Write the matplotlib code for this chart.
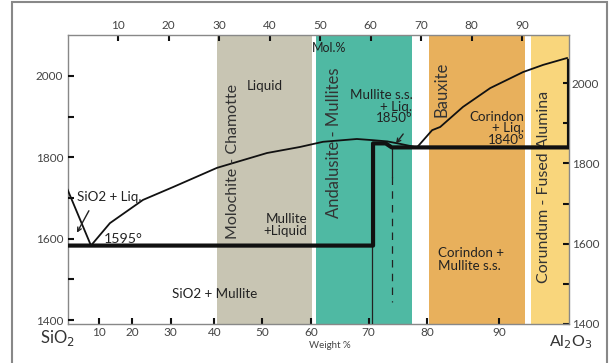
import matplotlib.pyplot as plt
from matplotlib.patches import Rectangle

plt.rcParams['font.family'] = ['Lato', 'DejaVu Sans']

# composition bands (mol % Al2O3)
bands = [(29.6, 48.4, '#c8c5b3'),
         (49.3, 68.2, '#4fb9a3'),
         (71.6, 90.6, '#e8b05c'),
         (91.8, 99.3, '#f9d67c')]
band_names = ['Molochite - Chamotte', 'Andalusite - Mullites', 'Bauxite',
              'Corundum - Fused Alumina']

# liquidus, mol % Al2O3 vs temperature
sio2_liq_x = [0.0, 4.65]
sio2_liq_t = [1735, 1595]
mul_liq_x = [4.65, 8.4, 14.95, 20.9, 29.6, 39.5, 46.0, 50.6, 57.3, 60.5, 63.3, 65.8, 69.2]
mul_liq_t = [1595, 1651, 1709, 1741, 1789, 1826, 1841, 1854, 1861, 1858, 1855, 1849, 1840]
cor_liq_x = [69.2, 72.2, 73.8, 78.3, 83.7, 90.2, 94.2, 98.9]
cor_liq_t = [1840, 1883, 1891, 1941, 1988, 2028, 2046, 2063]

t_eut1 = 1595
t_mullite = 1850
t_eut2 = 1840
t_al2o3 = 2056
x_mullite = 60.5
x_mullite_ss = 64.2
x_right = 99.3

mol_ticks = [10, 20, 30, 40, 50, 60, 70, 80, 90]
wt_ticks = [10, 20, 30, 40, 50, 60, 70, 80, 90]
wt_tick_mol = [6.24, 12.84, 20.45, 29.08, 38.59, 48.22, 59.64, 71.25, 85.45]

fig = plt.figure(figsize=(6.09, 3.63), dpi=100)
ax = fig.add_axes([67.5 / 609, 39 / 363, 501.5 / 609, 289 / 363])
ax.set_xlim(0, x_right)
ax.set_ylim(1399.3, 2120.5)

# left temperature scale lives on a twin axes
axl = ax.twinx()
axl.set_ylim(1390.2, 2100.8)

for x0, x1, c in bands:
    ax.axvspan(x0, x1, color=c, lw=0, zorder=0)

# liquidus curves
ax.plot(sio2_liq_x, sio2_liq_t, color='#111', lw=1.3, zorder=3)
ax.plot(mul_liq_x, mul_liq_t, color='#111', lw=1.3, zorder=3)
ax.plot(cor_liq_x, cor_liq_t, color='#111', lw=1.3, zorder=3)

# solidus / phase boundaries
ax.plot([0, x_mullite, x_mullite, 63.0, x_mullite_ss, x_right, x_right],
        [t_eut1, t_eut1, t_mullite, t_mullite, t_eut2, t_eut2, t_al2o3],
        color='#111', lw=3.0, solid_joinstyle='round', zorder=4)
ax.plot([60.3, 60.3], [1400, t_eut1], color='#222', lw=0.9, zorder=3)
ax.plot([x_mullite_ss, x_mullite_ss], [t_eut2, 1765], color='#222', lw=0.9, zorder=3)
ax.plot([x_mullite_ss, x_mullite_ss], [1765, 1453], color='#222', lw=0.9,
        ls=(0, (6, 5)), zorder=3)

# pointers
ax.annotate('', xy=(1.6, 1621), xytext=(4.5, 1688),
            arrowprops=dict(arrowstyle='->', color='#222', lw=1.0, mutation_scale=7))
ax.annotate('', xy=(64.7, 1844), xytext=(66.8, 1879),
            arrowprops=dict(arrowstyle='->', color='#222', lw=1.0, mutation_scale=7))

# band names
txt = dict(color='#333', rotation=90, ha='center', va='center')
ax.text(32.8, 1806, band_names[0], fontsize=11.5, **txt)
ax.text(52.8, 1851, band_names[1], fontsize=12, **txt)
ax.text(74.0, 1986, band_names[2], fontsize=12, **txt)
ax.text(94.3, 1741, band_names[3], fontsize=11.5, **txt)

lab = dict(color='#222', fontsize=9.6)
ax.text(39.0, 1993, 'Liquid', ha='center', va='center', **lab)
ax.text(68.3, 1941, 'Mullite s.s.\n+ Liq.\n1850°', ha='right', va='center',
        linespacing=0.95, **lab)
ax.text(90.4, 1888, 'Corindon\n+ Liq.\n1840°', ha='right', va='center',
        linespacing=0.95, **lab)
ax.text(1.9, 1716, 'SiO2 + Liq.', ha='left', va='center', **lab)
ax.text(7.2, 1611, '1595°', ha='left', va='center', fontsize=10.2, color='#222')
ax.text(47.5, 1646, 'Mullite\n+Liquid', ha='right', va='center',
        linespacing=0.95, **lab)
ax.text(29.2, 1474, 'SiO2 + Mullite', ha='center', va='center', **lab)
ax.text(73.3, 1561, 'Corindon +\nMullite s.s.', ha='left', va='center',
        linespacing=1.1, **lab)
ax.text(51.8, 2088, 'Mol.%', ha='center', va='center', color='#222', fontsize=9)

# axes styling
tick_kw = dict(direction='in', length=4.5, width=1.5, color='#111',
               labelcolor='#444', labelsize=8.5)
for sp in ax.spines.values():
    sp.set_color('#888')
    sp.set_linewidth(1.0)

ax.set_xticks(wt_tick_mol)
ax.set_xticklabels(wt_ticks)
ax.yaxis.tick_right()
ax.set_yticks([1400, 1600, 1800, 2000])
ax.set_yticks([1500, 1700, 1900], minor=True)
ax.tick_params(axis='both', which='both', pad=2, **tick_kw)

top = ax.secondary_xaxis('top')
top.set_xticks(mol_ticks)
top.tick_params(pad=3, **tick_kw)
top.spines['top'].set_visible(False)

axl.yaxis.tick_left()
axl.set_yticks([1400, 1600, 1800, 2000])
axl.set_yticks([1500, 1700, 1900], minor=True)
axl.tick_params(axis='y', which='both', pad=3, **tick_kw)
for sp in axl.spines.values():
    sp.set_visible(False)

fig.text(57 / 609, 1 - 338 / 363, 'SiO$_2$', ha='center', va='center',
         fontsize=12, color='#333')
fig.text(571 / 609, 1 - 342 / 363, 'Al$_2$O$_3$', ha='center', va='center',
         fontsize=11.5, color='#333')
fig.text(330 / 609, 1 - 346 / 363, 'Weight %', ha='center', va='center',
         fontsize=7, color='#444')

fig.add_artist(Rectangle((12 / 609, -0.02), 595 / 609, 1 - 2 / 363 + 0.02,
                         transform=fig.transFigure, fill=False,
                         ec='#888', lw=1.5))

fig.savefig('out.png', dpi=100)
